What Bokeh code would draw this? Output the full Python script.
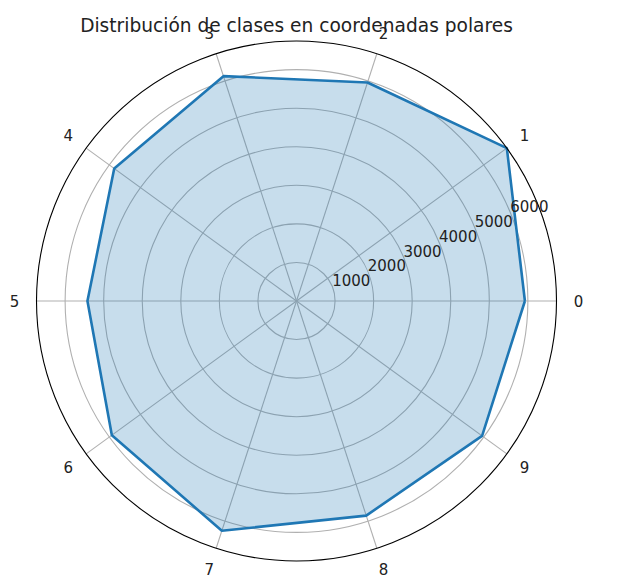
import math
from bokeh.plotting import figure
from bokeh.models import Range1d, Label, ColumnDataSource
from bokeh.core.properties import value
from bokeh.embed import file_html
from bokeh.resources import INLINE

# ---- data ----
classes = ["0", "1", "2", "3", "4", "5", "6", "7", "8", "9"]
counts = [5923, 6742, 5958, 6131, 5842, 5421, 5918, 6265, 5851, 5949]
radial_ticks = [1000, 2000, 3000, 4000, 5000, 6000]
radial_labels = ["1000", "2000", "3000", "4000", "5000", "6000"]
title_text = "Distribución de clases en coordenadas polares"

# ---- layout ----
W, H = 632, 578
cx_px, cy_px = 296, 300.5      # center position in canvas (from top-left)
R_px = 260.0                    # outer circle radius in px
rmax = max(counts)
s = R_px / rmax                 # px per data unit

p = figure(width=W, height=H, output_backend="svg", toolbar_location=None,
           min_border=0, min_border_left=0, min_border_right=0,
           min_border_top=0, min_border_bottom=0,
           x_range=Range1d(-cx_px / s, (W - cx_px) / s),
           y_range=Range1d(-(H - cy_px) / s, cy_px / s))
p.axis.visible = False
p.grid.visible = False
p.outline_line_color = None
p.background_fill_color = "white"
p.border_fill_color = "white"

n = len(classes)
angles = [2 * math.pi * i / n for i in range(n)]
grid_col = "#b0b0b0"

# theta grid lines
for a in angles:
    p.line([0, rmax * math.cos(a)], [0, rmax * math.sin(a)],
           line_color=grid_col, line_width=1.1)

# radial rings
p.circle(x=[0] * len(radial_ticks), y=[0] * len(radial_ticks), radius=radial_ticks,
         fill_color=None, line_color=grid_col, line_width=1.1)

# data polygon
xs = [c * math.cos(a) for c, a in zip(counts, angles)]
ys = [c * math.sin(a) for c, a in zip(counts, angles)]
p.patch(xs + [xs[0]], ys + [ys[0]], fill_color="#1f77b4", fill_alpha=0.25, line_color=None)
p.line(xs + [xs[0]], ys + [ys[0]], line_color="#1f77b4", line_width=2.6)

# outer spine
p.circle(x=[0], y=[0], radius=[rmax], fill_color=None, line_color="black", line_width=1.1)

# radial tick labels at 22.5 deg
ra = math.radians(22.5)
rsrc = ColumnDataSource(dict(x=[r * math.cos(ra) for r in radial_ticks],
                             y=[r * math.sin(ra) for r in radial_ticks],
                             t=radial_labels))
p.text(x="x", y="y", text="t", source=rsrc, text_align="left", text_baseline="bottom",
       text_font=value("DejaVu Sans"), text_font_size="15px", text_color="#222222")

# theta tick labels
lr = rmax * (282.0 / R_px)
tsrc = ColumnDataSource(dict(x=[lr * math.cos(a) for a in angles],
                             y=[lr * math.sin(a) for a in angles],
                             t=classes))
p.text(x="x", y="y", text="t", source=tsrc, text_align="center", text_baseline="middle",
       text_font=value("DejaVu Sans"), text_font_size="15px", text_color="#222222")

# title
p.add_layout(Label(x=cx_px, y=H - 25, x_units="screen", y_units="screen",
                   text=title_text, text_align="center", text_baseline="middle",
                   text_font="DejaVu Sans", text_font_size="18.6px",
                   text_font_style="normal", text_color="#222222"))

open("out.html", "w").write(file_html(p, INLINE))
